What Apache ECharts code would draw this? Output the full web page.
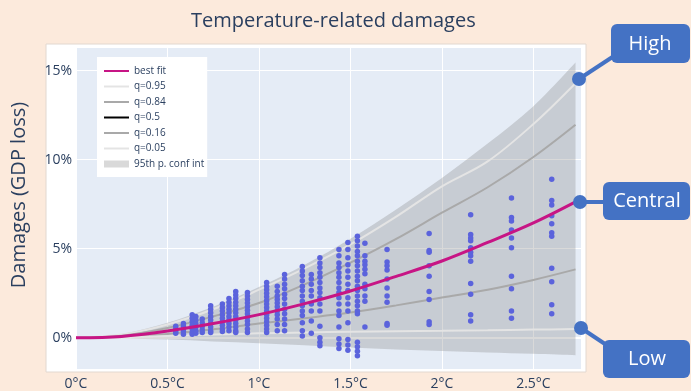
<!DOCTYPE html>
<html>
<head>
<meta charset="utf-8">
<script src="https://cdn.jsdelivr.net/npm/echarts@6/dist/echarts.min.js"></script>
<style>
html,body{margin:0;padding:0;background:#fceadc;}
#chart{width:691px;height:391px;}
</style>
</head>
<body>
<div id="chart"></div>
<script>
// ---- data ----
const tempGrid   = [0, 0.25, 0.5, 0.75, 1.0, 1.25, 1.5, 1.75, 2.0, 2.25, 2.5, 2.73];
const bestFit    = [0, 0.08, 0.38, 0.8, 1.3, 1.92, 2.63, 3.45, 4.31, 5.35, 6.45, 7.63];
const q95        = [0, 0.18, 0.75, 1.6, 2.7, 3.9, 5.24, 6.8, 8.5, 9.9, 12.0, 14.29];
const q84        = [0, 0.12, 0.55, 1.2, 1.95, 3.0, 4.22, 5.55, 7.02, 8.45, 10.15, 11.96];
const q50        = [0, 0.08, 0.38, 0.8, 1.3, 1.92, 2.63, 3.45, 4.31, 5.35, 6.45, 7.63];
const q16        = [0, 0.05, 0.22, 0.48, 0.8, 1.1, 1.42, 1.82, 2.26, 2.7, 3.25, 3.84];
const q05        = [0, 0.03, 0.1, 0.18, 0.25, 0.3, 0.34, 0.37, 0.39, 0.42, 0.46, 0.49];
const confUpper  = [0, 0.22, 0.85, 1.75, 2.85, 4.1, 5.56, 7.2, 8.97, 10.9, 13.0, 15.45];
const confLower  = [0, -0.04, -0.1, -0.2, -0.3, -0.42, -0.55, -0.65, -0.74, -0.82, -0.9, -0.98];

const obsTemps = [0.545, 0.587, 0.635, 0.655, 0.69, 0.736, 0.80, 0.836, 0.873, 0.937, 1.042, 1.10, 1.14,
                  1.237, 1.286, 1.333, 1.437, 1.486, 1.538, 1.579, 1.70, 1.93, 2.157, 2.38, 2.60];
const obsDamages = [
  [0.65, 0.5, 0.35, 0.25],
  [0.8, 0.65, 0.5, 0.35, 0.2],
  [1.3, 1.1, 0.9, 0.7, 0.5, 0.3, 0.2],
  [1.2, 1.0, 0.8, 0.6, 0.4, 0.25],
  [1.05, 0.85, 0.65, 0.45, 0.3],
  [1.8, 1.6, 1.4, 1.2, 1.0, 0.8, 0.6, 0.4, 0.3],
  [1.9, 1.7, 1.5, 1.3, 1.1, 0.9, 0.7, 0.5, 0.35],
  [2.2, 2.0, 1.8, 1.6, 1.4, 1.2, 1.0, 0.8, 0.6, 0.4],
  [2.6, 2.4, 2.2, 2.0, 1.8, 1.6, 1.4, 1.2, 1.0, 0.8, 0.6, 0.4, 0.3],
  [2.55, 2.35, 2.15, 1.95, 1.75, 1.55, 1.35, 1.15, 0.95, 0.75, 0.5, 0.3],
  [3.1, 2.9, 2.7, 2.5, 2.3, 2.1, 1.9, 1.7, 1.5, 1.3, 1.1, 0.9, 0.7, 0.5, 0.3],
  [2.9, 2.6, 2.35, 2.15, 1.95, 1.75, 1.5, 1.3, 1.05, 0.75, 0.4],
  [3.55, 3.3, 3.0, 2.75, 2.45, 2.2, 1.9, 1.6, 1.35, 1.05, 0.75, 0.4],
  [4.0, 3.75, 3.5, 3.2, 2.9, 2.65, 2.35, 2.05, 1.8, 1.5, 1.25, 0.85, 0.4, 0.1],
  [3.55, 3.3, 3.0, 2.65, 2.35, 1.9, 1.5, 0.95, 0.25],
  [4.5, 4.2, 3.95, 3.65, 3.4, 3.1, 2.8, 2.55, 2.25, 1.9, 1.5, 0.65, 0.0, -0.25, -0.45],
  [4.95, 4.6, 4.2, 3.95, 3.65, 3.4, 3.1, 2.8, 2.55, 2.25, 1.9, 1.5, 1.25, 0.6, -0.05, -0.35, -0.6],
  [5.35, 4.95, 4.5, 4.1, 3.75, 3.4, 3.0, 2.65, 2.25, 1.9, 1.5, 0.85, -0.1, -0.4, -0.7],
  [5.7, 5.45, 5.15, 4.85, 4.6, 4.3, 4.05, 3.75, 3.45, 3.2, 2.9, 2.65, 2.35, 2.05, 1.8, 1.5, 1.35, -0.25, -0.5, -0.75, -1.0],
  [5.3, 4.6, 4.3, 4.1, 3.85, 3.6, 3.0, 2.75, 2.35, 2.05, 0.6],
  [4.95, 4.25, 4.05, 3.8, 3.3, 2.8, 2.35, 2.0, 0.8, 0.7],
  [5.85, 4.9, 4.8, 4.05, 3.45, 2.6, 2.15, 0.9, 0.75],
  [6.9, 5.8, 5.6, 5.45, 5.05, 4.8, 4.6, 4.3, 3.05, 2.45, 1.3, 0.95],
  [7.85, 6.75, 6.55, 6.05, 5.6, 5.05, 3.45, 2.75, 1.5, 1.1],
  [8.9, 7.7, 7.45, 6.85, 6.4, 5.9, 5.7, 3.9, 3.15, 1.85, 1.35]
];
const xTickLabels = ['0°C', '0.5°C', '1°C', '1.5°C', '2°C', '2.5°C'];
const legendNames = ['best fit', 'q=0.95', 'q=0.84', 'q=0.5', 'q=0.16', 'q=0.05', '95th p. conf int'];

// ---- build ----
const pair = (ys) => tempGrid.map((t, i) => [t, ys[i]]);
const scatterData = [];
obsTemps.forEach((t, i) => obsDamages[i].forEach(v => scatterData.push([t, v])));
const bandData = tempGrid.map((t, i) => [t, confLower[i], confUpper[i]]);

const FONT = 'Open Sans';
const TXT = '#2a3f5f';
const lineIcon = 'path://M0,0H25V2H0Z';
const barIcon = 'path://M0,0H25V7H0Z';

// Catmull-Rom spline through pixel points -> SVG path commands
function splinePath(pts, startCmd) {
  let d = startCmd + pts[0][0].toFixed(2) + ',' + pts[0][1].toFixed(2);
  for (let i = 0; i < pts.length - 1; i++) {
    const p0 = pts[Math.max(i - 1, 0)], p1 = pts[i], p2 = pts[i + 1], p3 = pts[Math.min(i + 2, pts.length - 1)];
    const c1 = [p1[0] + (p2[0] - p0[0]) / 6, p1[1] + (p2[1] - p0[1]) / 6];
    const c2 = [p2[0] - (p3[0] - p1[0]) / 6, p2[1] - (p3[1] - p1[1]) / 6];
    d += 'C' + c1[0].toFixed(2) + ',' + c1[1].toFixed(2) + ' ' + c2[0].toFixed(2) + ',' + c2[1].toFixed(2) + ' ' + p2[0].toFixed(2) + ',' + p2[1].toFixed(2);
  }
  return d;
}

function qLine(name, ys, color, width, z) {
  return {
    name: name, type: 'line', data: pair(ys), smooth: 0.35,
    symbol: 'none', color: color, lineStyle: {color: color, width: width}, z: z, silent: true
  };
}

const chart = echarts.init(document.getElementById('chart'), null, {renderer: 'canvas'});
chart.setOption({
  backgroundColor: '#fceadc',
  animation: false,
  title: {
    text: 'Temperature-related damages', left: 186, top: 6,
    textStyle: {fontFamily: FONT, fontSize: 20, fontWeight: 'normal', color: TXT}
  },
  grid: {left: 76, right: 110, top: 47, bottom: 21, show: true, backgroundColor: '#e5ecf6', borderWidth: 0},
  legend: {
    left: 97, top: 57, orient: 'vertical', backgroundColor: '#ffffff',
    padding: [9, 3, 8, 7], itemGap: 5.5, itemWidth: 25, itemHeight: 7,
    textStyle: {fontFamily: FONT, fontSize: 10, color: TXT},
    data: legendNames.map((n, i) => ({name: n, icon: i === 6 ? barIcon : lineIcon}))
  },
  xAxis: {
    type: 'value', min: 0, max: 2.76, interval: 0.5,
    axisLine: {show: false}, axisTick: {show: false},
    splitLine: {lineStyle: {color: '#ffffff', width: 1}},
    axisLabel: {
      showMaxLabel: false, margin: 8, fontFamily: FONT, fontSize: 14, color: TXT,
      formatter: (v) => { const k = Math.round(v / 0.5); return xTickLabels[k] || ''; }
    }
  },
  yAxis: {
    type: 'value', min: -1.75, max: 16.32, splitNumber: 4,
    axisLine: {show: false}, axisTick: {show: false},
    splitLine: {lineStyle: {color: '#ffffff', width: 1}},
    axisLabel: {
      showMinLabel: false, showMaxLabel: false, margin: 4, fontFamily: FONT, fontSize: 14, color: TXT,
      formatter: (v) => v + '%'
    }
  },
  series: [
    {
      name: '95th p. conf int', type: 'custom', data: bandData, z: 1, silent: true,
      color: 'rgba(128,128,128,0.3)',
      encode: {x: 0, y: [1, 2]},
      renderItem: function (params, api) {
        if (params.dataIndex !== 0) return null;
        const up = bandData.map(r => api.coord([r[0], r[2]]));
        const lo = bandData.map(r => api.coord([r[0], r[1]])).reverse();
        const d = splinePath(up, 'M') + splinePath(lo, 'L') + 'Z';
        return {type: 'path', shape: {pathData: d}, style: {fill: 'rgba(128,128,128,0.3)'}};
      },
      markLine: {
        silent: true, symbol: 'none', label: {show: false}, z: 0,
        lineStyle: {color: '#ffffff', width: 2, type: 'solid'},
        data: [{yAxis: 0}]
      }
    },
    qLine('q=0.95', q95, '#e4e4e4', 2, 2),
    qLine('q=0.84', q84, '#a9a9a9', 2, 2),
    qLine('q=0.16', q16, '#a9a9a9', 2, 2),
    qLine('q=0.05', q05, '#e4e4e4', 2, 2),
    {
      name: 'observations', type: 'scatter', data: scatterData, symbolSize: 5.5,
      itemStyle: {color: '#5b63dc', opacity: 1}, z: 3, silent: true
    },
    qLine('q=0.5', q50, '#000000', 1, 4),
    qLine('best fit', bestFit, '#c71585', 3, 5)
  ],
  graphic: [
    {type: 'rect', z: -10, shape: {x: 46, y: 44, width: 540, height: 328}, style: {fill: '#ffffff', stroke: '#e2d8d0', lineWidth: 1}},
    {type: 'text', z: 10, x: 19, y: 195, rotation: Math.PI / 2,
     style: {text: 'Damages (GDP loss)', fill: TXT, font: '20px "Open Sans"', align: 'center', verticalAlign: 'middle'}},
    // callouts
    {type: 'line', z: 100, shape: {x1: 579, y1: 79, x2: 614, y2: 56}, style: {stroke: '#4472c4', lineWidth: 4}},
    {type: 'circle', z: 101, shape: {cx: 579, cy: 79, r: 7}, style: {fill: '#4472c4'}},
    {type: 'rect', z: 101, shape: {x: 611, y: 24, width: 79, height: 39, r: 6}, style: {fill: '#4472c4'}},
    {type: 'text', z: 102, x: 650, y: 44, style: {text: 'High', fill: '#ffffff', font: '20px "Open Sans"', align: 'center', verticalAlign: 'middle'}},

    {type: 'line', z: 100, shape: {x1: 580, y1: 202, x2: 606, y2: 202}, style: {stroke: '#4472c4', lineWidth: 4}},
    {type: 'circle', z: 101, shape: {cx: 580, cy: 202, r: 7}, style: {fill: '#4472c4'}},
    {type: 'rect', z: 101, shape: {x: 603, y: 182, width: 87, height: 38, r: 6}, style: {fill: '#4472c4'}},
    {type: 'text', z: 102, x: 647, y: 201, style: {text: 'Central', fill: '#ffffff', font: '20px "Open Sans"', align: 'center', verticalAlign: 'middle'}},

    {type: 'line', z: 100, shape: {x1: 581, y1: 328, x2: 608, y2: 346}, style: {stroke: '#4472c4', lineWidth: 4}},
    {type: 'circle', z: 101, shape: {cx: 581, cy: 328, r: 7}, style: {fill: '#4472c4'}},
    {type: 'rect', z: 101, shape: {x: 603, y: 340, width: 87, height: 38, r: 6}, style: {fill: '#4472c4'}},
    {type: 'text', z: 102, x: 647, y: 359, style: {text: 'Low', fill: '#ffffff', font: '20px "Open Sans"', align: 'center', verticalAlign: 'middle'}}
  ]
});
</script>
</body>
</html>
